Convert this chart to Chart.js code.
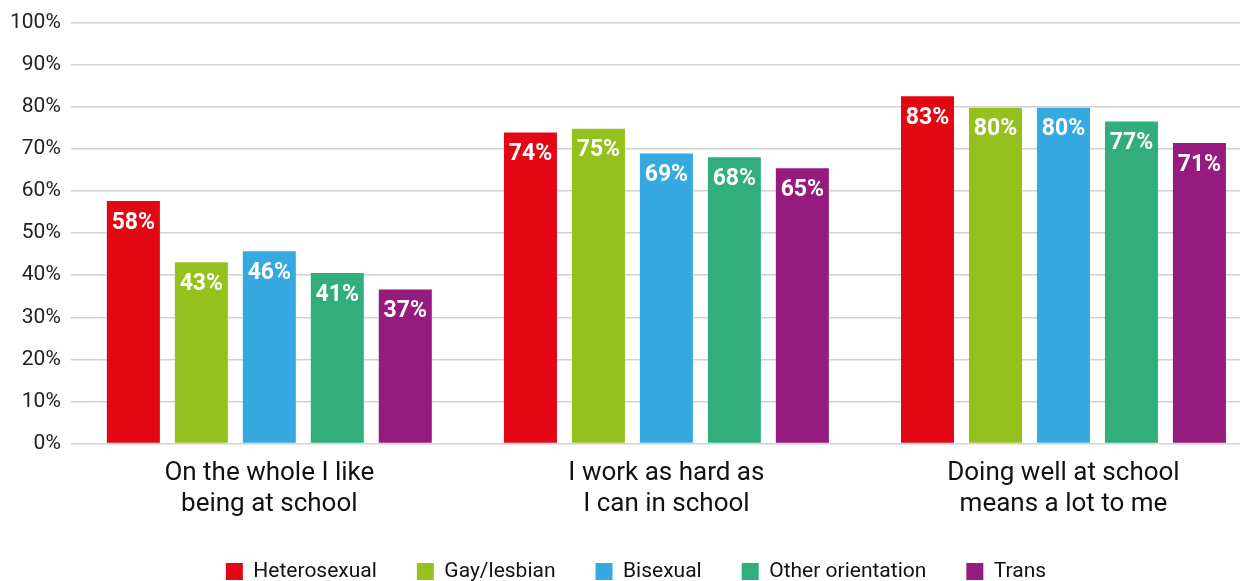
<!DOCTYPE html>
<html>
<head>
<meta charset="utf-8">
<script src="https://cdn.jsdelivr.net/npm/chart.js@4"></script>
<style>
  html, body { margin: 0; padding: 0; background: #fff; overflow: hidden; }
  #wrap { width: 1284px; height: 592px; position: relative; }
</style>
</head>
<body>
<div id="wrap"><canvas id="myChart"></canvas></div>
<script>
const categories = [
    ['On the whole I like', 'being at school'],
    ['I work as hard as', 'I can in school'],
    ['Doing well at school', 'means a lot to me']
];
const seriesNames = ['Heterosexual', 'Gay/lesbian', 'Bisexual', 'Other orientation', 'Trans'];
const seriesColors = ['#E30613', '#95C11F', '#36A9E1', '#31AE7B', '#951B7F'];

const heterosexual = [57.6, 73.9, 82.5];
const gayLesbian   = [43.1, 74.8, 79.8];
const bisexual     = [45.7, 68.9, 79.8];
const otherOrient  = [40.5, 68.0, 76.5];
const trans        = [36.6, 65.4, 71.4];

const yTicks = [0, 10, 20, 30, 40, 50, 60, 70, 80, 90, 100];

const seriesValues = [heterosexual, gayLesbian, bisexual, otherOrient, trans];

// white bold value labels just inside the top of each bar
const barLabels = {
    id: 'barLabels',
    afterDatasetsDraw(chart) {
        const ctx = chart.ctx;
        ctx.save();
        ctx.fillStyle = '#fff';
        ctx.font = 'bold 23px Roboto';
        ctx.textAlign = 'center';
        ctx.textBaseline = 'middle';
        chart.data.datasets.forEach((ds, i) => {
            chart.getDatasetMeta(i).data.forEach((bar, j) => {
                ctx.fillText(Math.round(ds.data[j]) + '%', bar.x, bar.y + 22);
            });
        });
        ctx.restore();
    }
};

const config = {
    type: 'bar',
    data: {
        labels: categories,
        datasets: seriesNames.map((name, i) => ({
            label: name,
            data: seriesValues[i],
            backgroundColor: seriesColors[i],
            categoryPercentage: 0.856,
            barPercentage: 0.78
        }))
    },
    options: {
        responsive: true,
        maintainAspectRatio: false,
        animation: false,
        // the plot runs a little past the right edge of the visible picture
        layout: { padding: { left: 10, right: 22, top: 10, bottom: 0 } },
        scales: {
            x: {
                grid: { display: false, drawTicks: false },
                border: { display: false },
                afterFit(axis) { axis.height -= 13; },
                ticks: {
                    color: '#111',
                    font: { family: 'Roboto', size: 26, lineHeight: 1.2 },
                    padding: 14,
                    maxRotation: 0
                }
            },
            y: {
                min: 0,
                max: 100,
                afterBuildTicks(axis) {
                    axis.ticks = yTicks.map(v => ({ value: v }));
                },
                afterFit(axis) { axis.width -= 10; },
                grid: { color: '#d2d2d2', lineWidth: 1.5, drawTicks: false },
                border: { display: false },
                ticks: {
                    color: '#222',
                    font: { family: 'Roboto', size: 21 },
                    padding: 10,
                    callback: v => v + '%'
                }
            }
        },
        plugins: {
            legend: {
                position: 'bottom',
                labels: {
                    boxWidth: 17,
                    boxHeight: 17,
                    padding: 40,
                    color: '#111',
                    font: { family: 'Roboto', size: 21 }
                }
            },
            tooltip: { enabled: false }
        }
    },
    plugins: [barLabels]
};

let myChart = new Chart(document.getElementById('myChart'), config);
</script>
</body>
</html>
